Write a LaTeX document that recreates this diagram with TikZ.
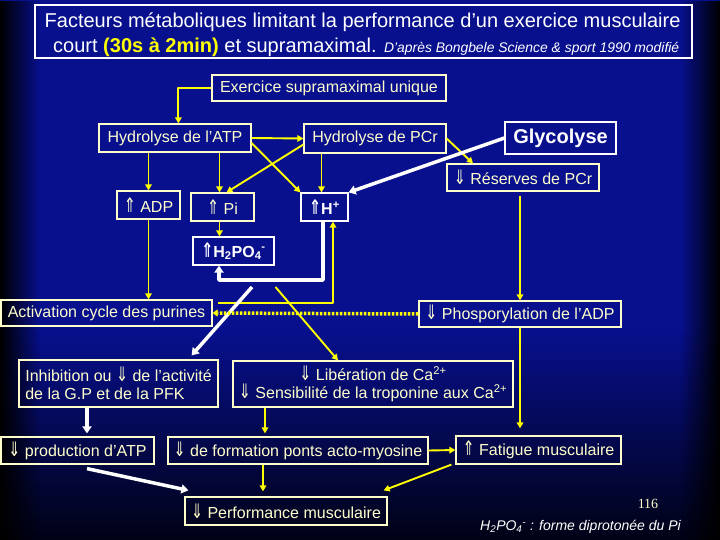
\documentclass[tikz,border=0pt]{standalone}
\usepackage{fontspec}
\setmainfont{Liberation Sans}
\newfontfamily\arrfont{DejaVu Sans}
\newfontfamily\serfont{Liberation Serif}
\usetikzlibrary{arrows.meta,calc,fadings}
\definecolor{bgblue}{RGB}{8,16,142}
\definecolor{cream}{RGB}{255,255,204}
\definecolor{ylw}{RGB}{255,255,0}
\newcommand\myUp{\scalebox{0.9}[1.25]{\arrfont ⇑}}
\newcommand\myDn{\scalebox{0.9}[1.25]{\arrfont ⇓}}
\tikzfading[name=fdL, left color=transparent!0, right color=transparent!100]
\tikzfading[name=fdR, left color=transparent!100, right color=transparent!0]
\tikzfading[name=fdB, top color=transparent!100, bottom color=transparent!15]
\tikzset{
  box/.style={draw=cream, line width=1.2pt, text=cream, inner sep=0pt,
    font=\fontsize{16}{18}\selectfont, align=center},
  wbox/.style={box, draw=white, text=white},
  ya/.style={draw=ylw, line width=1.9pt, line join=round, -{Triangle[length=6pt,width=6.5pt]}},
  wa/.style={draw=white, line width=3.5pt, line join=round, -{Triangle[length=7pt,width=9pt]}},
  yd/.style={draw=ylw, line width=3.5pt, dash pattern=on 2.5pt off 1.5pt, -{Triangle[length=5pt,width=7pt]}},
}
\newcommand\boxat[7]{\node[#1, minimum width={(#5-#3)*1pt}, minimum height={(#6-#4)*1pt}]
  (#2) at ({(#3+#5)/2},{(#4+#6)/2}) {#7};}
\begin{document}
\begin{tikzpicture}[x=1pt,y=-1pt]
\useasboundingbox (0,0) rectangle (720,540);
% background
\fill[bgblue] (0,0) rectangle (720,540);
\fill[black, path fading=fdB] (0,330) rectangle (720,540);
\fill[black, path fading=fdL] (0,0) rectangle (40,540);
\fill[black, path fading=fdR] (680,0) rectangle (720,540);
% title
\boxat{wbox}{title}{35}{5}{692}{58}{}
\node[anchor=base west, text=white, font=\fontsize{20}{24}\selectfont, inner sep=0pt] (t1) at (44.5,27.5)
  {Facteurs métaboliques limitant la performance d’un exercice musculaire};
\node[anchor=base west, text=white, inner sep=0pt] (t2) at (53,53)
  {\fontsize{20}{24}\selectfont court \textbf{\color{ylw}(30s à 2min)} et supramaximal.
   \fontsize{13.9}{15}\selectfont\itshape D’après Bongbele Science \& sport 1990 modifié};
% boxes
\boxat{box}{exo}{212}{75}{446}{101}{Exercice supramaximal unique}
\boxat{box}{atp}{99}{124}{251}{152}{Hydrolyse de l'ATP}
\boxat{box}{pcr}{304}{124}{446}{153}{Hydrolyse de PCr}
\boxat{wbox}{gly}{505}{122}{616}{154}{\fontsize{20}{24}\selectfont\bfseries Glycolyse}
\boxat{box}{res}{447}{164}{599}{191}{\myDn\ Réserves de PCr}
\boxat{box}{adp}{117}{191}{180}{219}{\myUp\ ADP}
\boxat{box}{pi}{191}{193}{254}{221}{\myUp\ Pi}
\boxat{wbox}{hp}{301}{193}{348}{221}{\bfseries\myUp H\textsuperscript{+}}
\boxat{wbox}{hpo}{193}{237}{274}{265}{\bfseries\myUp H\textsubscript{2}PO\textsubscript{4}\textsuperscript{-}}
\boxat{box}{act}{1}{300}{212}{326}{Activation cycle des purines}
\boxat{box}{phos}{419}{301}{621}{327}{\myDn\ Phosporylation de l'ADP}
\boxat{box,align=left}{inh}{19}{360}{218}{407}{Inhibition ou \myDn\ de l'activité\\de la G.P et de la PFK}
\boxat{box}{lib}{233}{361}{513}{407}{\myDn\ Libération de Ca\textsuperscript{2+}\\\myDn\ Sensibilité de la troponine aux Ca\textsuperscript{2+}}
\boxat{box}{prod}{1}{437}{154}{464}{\myDn\ production d'ATP}
\boxat{box}{form}{168}{437}{428}{464}{\myDn\ de formation ponts acto-myosine}
\boxat{box}{fat}{456}{436}{621}{464}{\myUp\ Fatigue musculaire}
\boxat{box}{perf}{185}{497}{387}{525}{\myDn\ Performance musculaire}
\node[text=cream, font=\serfont\fontsize{14}{16}\selectfont] (pg) at (648,504) {116};
\node[text=white, font=\fontsize{14}{16}\selectfont\itshape, anchor=west, inner sep=0pt] (fn) at (480,527)
  {H\textsubscript{2}PO\textsubscript{4}\textsuperscript{-} : forme diprotonée du Pi};
% connectors
\draw[ya] (exo.west) -| ($(atp.north west)+(80,0)$);
\draw[ya] (atp.east) -- (pcr.west);
\draw[ya] (atp.south -| adp.north) -- (adp.north);
\coordinate (pin) at ($(pi.north)+(-3,0)$);
\draw[ya] (atp.south -| pin) -- (pin);
\draw[ya] ($(atp.east)+(0,5)$) -- (hp.north west);
\draw[ya] ($(pcr.west)+(0,6)$) -- ($(pi.north)+(4,0)$);
\coordinate (hpn) at ($(hp.north)+(-3,0)$);
\draw[ya] (pcr.south -| hpn) -- (hpn);
\draw[ya] (pcr.east) -- ($(res.north)+(-50,0)$);
\draw[wa] (gly.west) -- (hp.north east);
\coordinate (pis) at ($(pi.south)+(-3,0)$);
\draw[ya] (pis) -- (pis |- hpo.north);
\draw[ya] (adp.south) -- (adp.south |- act.north);
\coordinate (wk) at (219,280);
\draw[wa] ($(hp.south)+(-1.5,0)$) |- (wk) -- (wk |- hpo.south);
\coordinate (yk) at (218,303);
\draw[ya] (yk) -| ($(hp.south)+(8.5,0)$);
\coordinate (wd) at (252,287);
\draw[wa] (wd) -- ($(inh.north east)+(-27,-4)$);
\coordinate (ydg) at (275.5,287);
\draw[ya] (ydg) -- ($(lib.north)+(-35,0)$);
\draw[yd] (phos.west) -- (act.east);
\draw[ya, shorten <=4pt] (phos.north |- res.south) -- (phos.north);
\draw[ya, shorten >=7pt] (phos.south) -- (phos.south |- fat.north);
\coordinate (ip) at ($(inh.south)+(-31.5,0)$);
\draw[wa, shorten >=3pt] (ip) -- (ip |- prod.north);
\coordinate (lf) at ($(lib.south)+(-108,0)$);
\draw[ya, shorten >=3pt] (lf) -- (lf |- form.north);
\draw[ya] (form.east) -- (fat.west);
\coordinate (fp) at ($(form.south)+(-35,0)$);
\draw[ya, shorten >=5pt] (fp) -- (fp |- perf.north);
\draw[wa] ($(prod.south)+(9.5,4)$) -- ($(perf.north west)+(4,-6)$);
\draw[ya] ($(fat.south west)+(-4,0)$) -- ($(perf.north east)+(-4,-6)$);
\end{tikzpicture}
\end{document}
